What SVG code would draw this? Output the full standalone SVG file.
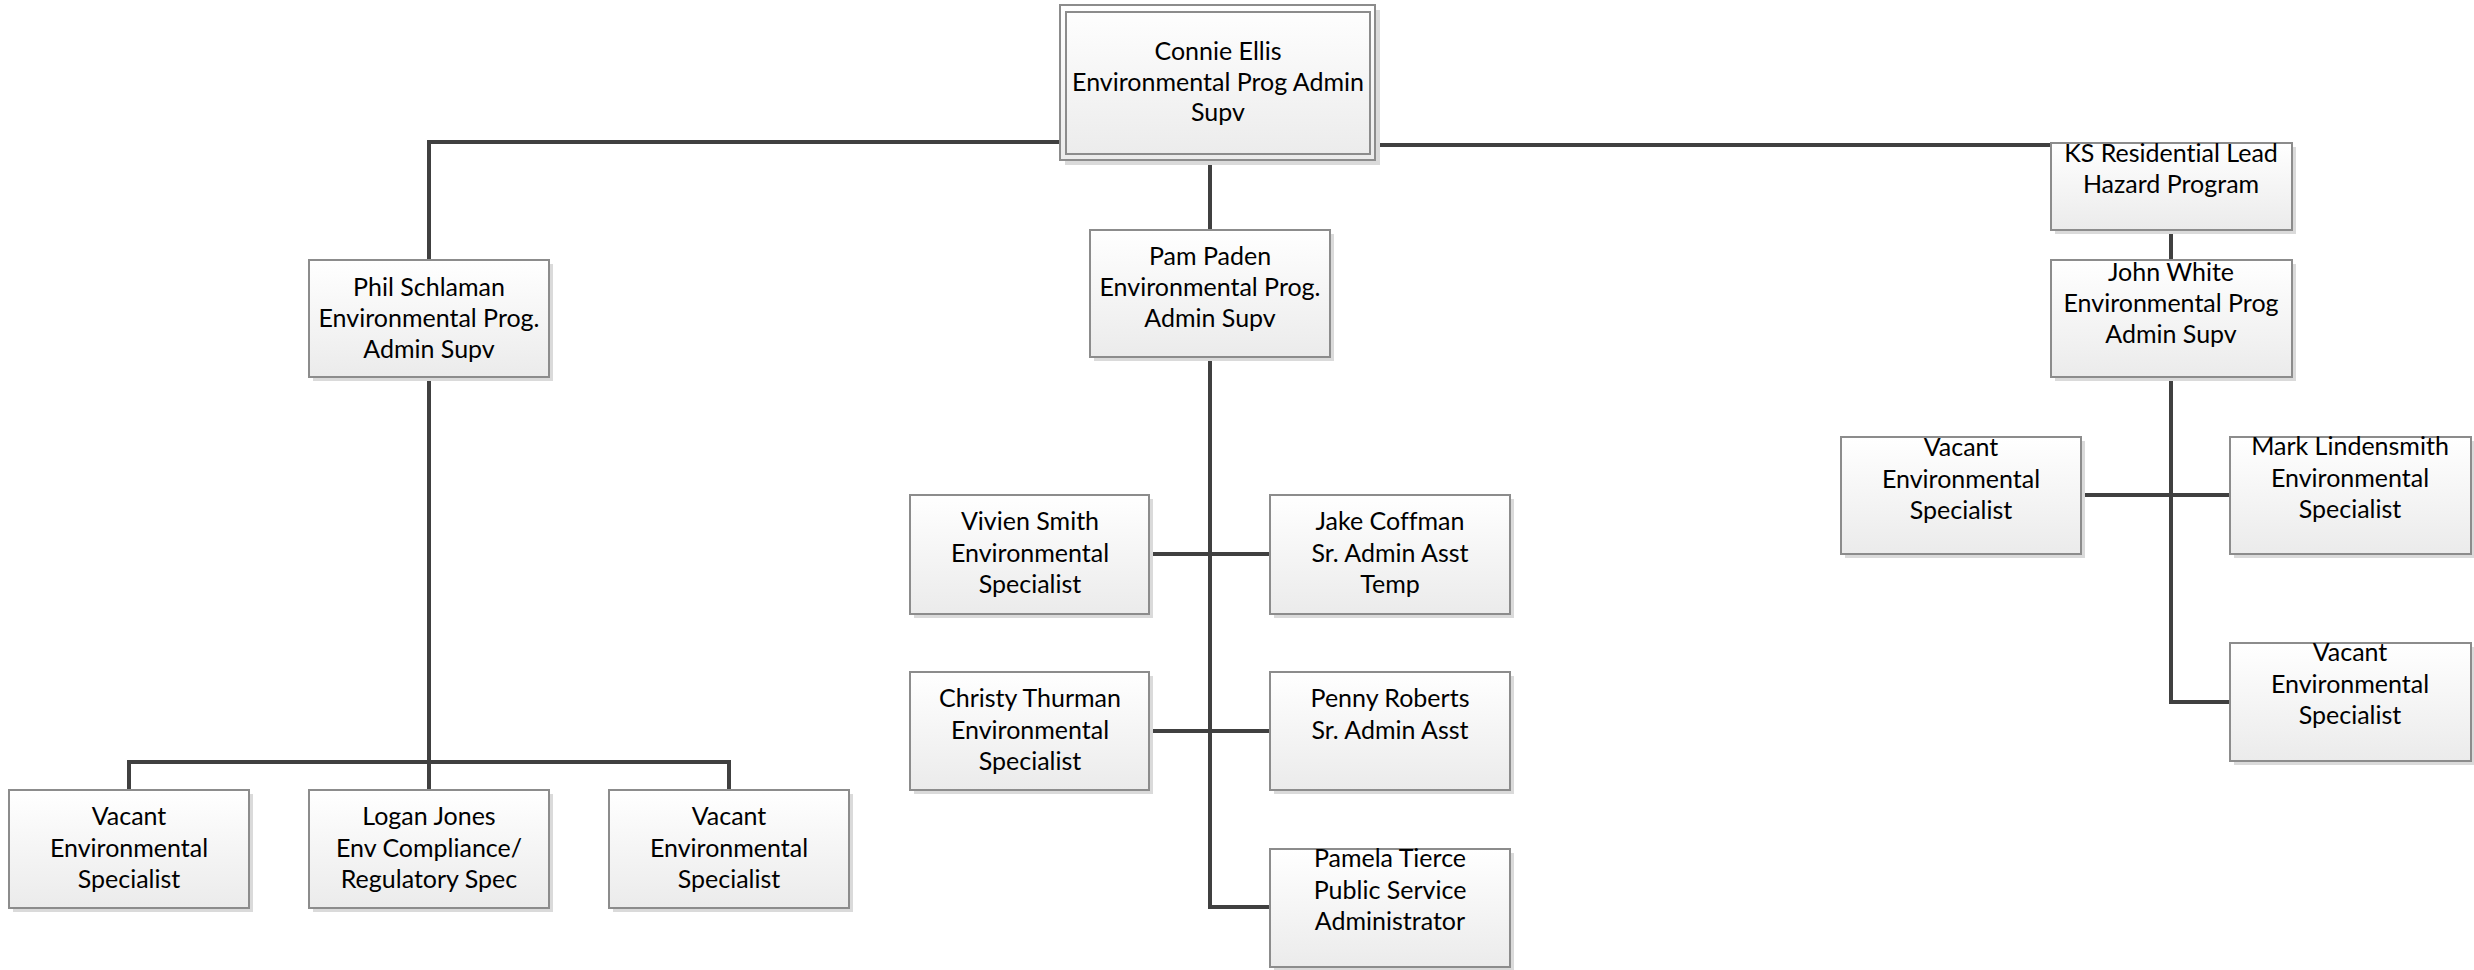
<svg xmlns="http://www.w3.org/2000/svg" width="2474" height="970" viewBox="0 0 2474 970">
<defs>
<linearGradient id="g" x1="0" y1="0" x2="0" y2="1">
<stop offset="0" stop-color="#ffffff"/>
<stop offset="1" stop-color="#ebebeb"/>
</linearGradient>
</defs>
<style>
.sh{fill:#dadada}
.bx{fill:url(#g);stroke:#8c8c8c;stroke-width:2}
.in{fill:none;stroke:#8c8c8c;stroke-width:2}
text{font-family:Lato,"Liberation Sans",sans-serif;font-size:25px;fill:#000;text-anchor:middle;font-variant-ligatures:none}
.c path{fill:none;stroke:#404040;stroke-width:4}
</style>
<rect width="2474" height="970" fill="#ffffff"/>
<g class="c" id="connectors">
<path d="M1060,142 H429 V260"/>
<path d="M429,377 V762"/>
<path d="M129,790 V762 H729 V790"/>
<path d="M429,762 V790"/>
<path d="M1210,160 V230"/>
<path d="M1210,357 V907 H1270"/>
<path d="M1149,554 H1270"/>
<path d="M1149,731 H1270"/>
<path d="M1375,145 H2051"/>
<path d="M2171,230 V260"/>
<path d="M2158,377 H2171 V702 H2230"/>
<path d="M2081,495 H2230"/>
</g>
<g id="connie">
<rect class="sh" x="1065" y="10" width="315" height="155"/>
<rect class="bx" x="1060" y="5" width="315" height="155"/>
<rect class="in" x="1066" y="12" width="304" height="142"/>
<text x="1218" y="60">Connie Ellis</text>
<text x="1218" y="91">Environmental Prog Admin</text>
<text x="1218" y="121">Supv</text>
</g>
<g id="phil">
<rect class="sh" x="313" y="264" width="240" height="117"/>
<rect class="bx" x="309" y="260" width="240" height="117"/>
<text x="429" y="296">Phil Schlaman</text>
<text x="429" y="327">Environmental Prog.</text>
<text x="429" y="358">Admin Supv</text>
</g>
<g id="pam">
<rect class="sh" x="1094" y="234" width="240" height="127"/>
<rect class="bx" x="1090" y="230" width="240" height="127"/>
<text x="1210" y="265">Pam Paden</text>
<text x="1210" y="296">Environmental Prog.</text>
<text x="1210" y="327">Admin Supv</text>
</g>
<g id="ks">
<rect class="sh" x="2055" y="147" width="241" height="87"/>
<rect class="bx" x="2051" y="143" width="241" height="87"/>
<text x="2171" y="162">KS Residential Lead</text>
<text x="2171" y="193">Hazard Program</text>
</g>
<g id="john">
<rect class="sh" x="2055" y="264" width="241" height="117"/>
<rect class="bx" x="2051" y="260" width="241" height="117"/>
<text x="2171" y="281">John White</text>
<text x="2171" y="312">Environmental Prog</text>
<text x="2171" y="343">Admin Supv</text>
</g>
<g id="vacant1">
<rect class="sh" x="13" y="794" width="240" height="118"/>
<rect class="bx" x="9" y="790" width="240" height="118"/>
<text x="129" y="825">Vacant</text>
<text x="129" y="857">Environmental</text>
<text x="129" y="888">Specialist</text>
</g>
<g id="logan">
<rect class="sh" x="313" y="794" width="240" height="118"/>
<rect class="bx" x="309" y="790" width="240" height="118"/>
<text x="429" y="825">Logan Jones</text>
<text x="429" y="857">Env Compliance/</text>
<text x="429" y="888">Regulatory Spec</text>
</g>
<g id="vacant2">
<rect class="sh" x="613" y="794" width="240" height="118"/>
<rect class="bx" x="609" y="790" width="240" height="118"/>
<text x="729" y="825">Vacant</text>
<text x="729" y="857">Environmental</text>
<text x="729" y="888">Specialist</text>
</g>
<g id="vivien">
<rect class="sh" x="914" y="499" width="239" height="119"/>
<rect class="bx" x="910" y="495" width="239" height="119"/>
<text x="1030" y="530">Vivien Smith</text>
<text x="1030" y="562">Environmental</text>
<text x="1030" y="593">Specialist</text>
</g>
<g id="jake">
<rect class="sh" x="1274" y="499" width="240" height="119"/>
<rect class="bx" x="1270" y="495" width="240" height="119"/>
<text x="1390" y="530">Jake Coffman</text>
<text x="1390" y="562">Sr. Admin Asst</text>
<text x="1390" y="593">Temp</text>
</g>
<g id="christy">
<rect class="sh" x="914" y="676" width="239" height="118"/>
<rect class="bx" x="910" y="672" width="239" height="118"/>
<text x="1030" y="707">Christy Thurman</text>
<text x="1030" y="739">Environmental</text>
<text x="1030" y="770">Specialist</text>
</g>
<g id="penny">
<rect class="sh" x="1274" y="676" width="240" height="118"/>
<rect class="bx" x="1270" y="672" width="240" height="118"/>
<text x="1390" y="707">Penny Roberts</text>
<text x="1390" y="739">Sr. Admin Asst</text>
</g>
<g id="pamela">
<rect class="sh" x="1274" y="853" width="240" height="118"/>
<rect class="bx" x="1270" y="849" width="240" height="118"/>
<text x="1390" y="867">Pamela Tierce</text>
<text x="1390" y="899">Public Service</text>
<text x="1390" y="930">Administrator</text>
</g>
<g id="vacant3">
<rect class="sh" x="1845" y="441" width="240" height="117"/>
<rect class="bx" x="1841" y="437" width="240" height="117"/>
<text x="1961" y="456">Vacant</text>
<text x="1961" y="488">Environmental</text>
<text x="1961" y="519">Specialist</text>
</g>
<g id="mark">
<rect class="sh" x="2234" y="441" width="241" height="117"/>
<rect class="bx" x="2230" y="437" width="241" height="117"/>
<text x="2350" y="455">Mark Lindensmith</text>
<text x="2350" y="487">Environmental</text>
<text x="2350" y="518">Specialist</text>
</g>
<g id="vacant4">
<rect class="sh" x="2234" y="647" width="241" height="118"/>
<rect class="bx" x="2230" y="643" width="241" height="118"/>
<text x="2350" y="661">Vacant</text>
<text x="2350" y="693">Environmental</text>
<text x="2350" y="724">Specialist</text>
</g>
</svg>
